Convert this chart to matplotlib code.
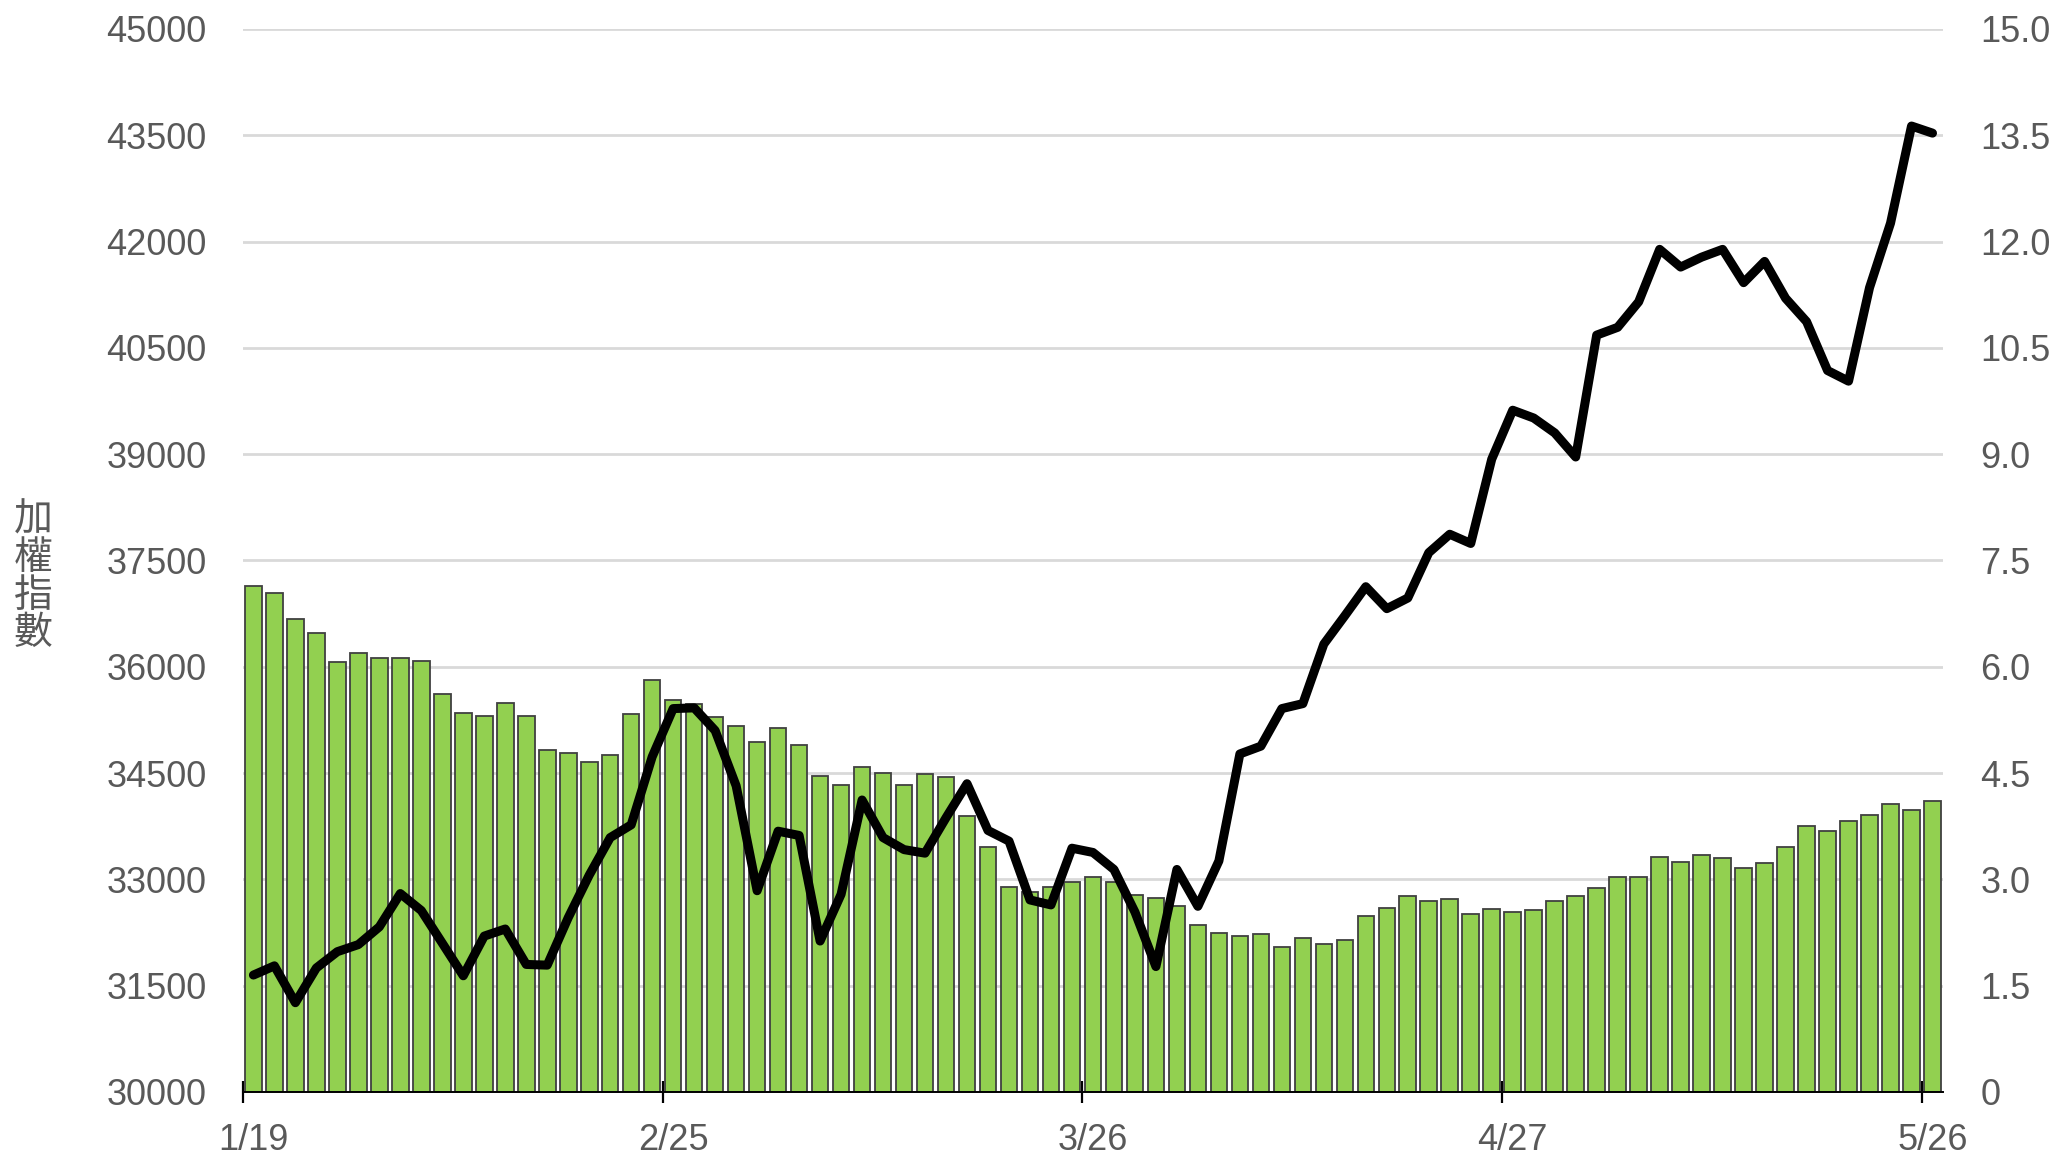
import numpy as np
import matplotlib
matplotlib.use("Agg")
import matplotlib.pyplot as plt
from matplotlib.ticker import FixedLocator, FuncFormatter

plt.rcParams['font.family'] = ['Liberation Sans', 'Noto Sans CJK TC', 'DejaVu Sans']

# bar series (right axis, 0-15)
bar_values = [7.14, 7.04, 6.67, 6.48, 6.07, 6.19, 6.13, 6.13, 6.08, 5.62,
              5.35, 5.31, 5.49, 5.31, 4.82, 4.79, 4.66, 4.76, 5.33, 5.82,
              5.53, 5.47, 5.29, 5.17, 4.94, 5.13, 4.89, 4.46, 4.33, 4.58,
              4.50, 4.33, 4.49, 4.45, 3.90, 3.46, 2.89, 2.82, 2.89, 2.96,
              3.03, 2.97, 2.78, 2.74, 2.62, 2.36, 2.24, 2.20, 2.23, 2.04,
              2.17, 2.09, 2.15, 2.48, 2.60, 2.76, 2.69, 2.73, 2.51, 2.58,
              2.54, 2.57, 2.69, 2.77, 2.88, 3.04, 3.03, 3.31, 3.25, 3.35,
              3.30, 3.16, 3.23, 3.46, 3.75, 3.68, 3.83, 3.91, 4.07, 3.98,
              4.10]

# weighted index line (left axis)
index_values = [31650, 31780, 31260, 31750, 31980, 32080, 32330, 32800, 32560, 32100,
                31640, 32200, 32300, 31800, 31790, 32460, 33060, 33590, 33770, 34730,
                35410, 35420, 35100, 34320, 32840, 33680, 33620, 32130, 32790, 34120,
                33590, 33420, 33370, 33870, 34350, 33690, 33540, 32710, 32640, 33440,
                33380, 33140, 32540, 31770, 33140, 32620, 33260, 34770, 34880, 35410,
                35480, 36320, 36720, 37130, 36820, 36970, 37610, 37870, 37740, 38930,
                39620, 39510, 39300, 38960, 40680, 40790, 41150, 41890, 41640, 41780,
                41890, 41420, 41720, 41200, 40870, 40180, 40030, 41350, 42260, 43630,
                43530]

tick_idx = [0, 20, 40, 60, 80]
tick_labels = ['1/19', '2/25', '3/26', '4/27', '5/26']

left_ticks = [30000, 31500, 33000, 34500, 36000, 37500, 39000, 40500, 42000, 43500, 45000]
right_ticks = [0, 1.5, 3.0, 4.5, 6.0, 7.5, 9.0, 10.5, 12.0, 13.5, 15.0]

text_color = '#595959'
fs = 26

fig = plt.figure(figsize=(20.55, 11.58), dpi=100)
ax = fig.add_axes([0.1182, 0.057, 0.8273, 0.918])
ax2 = ax.twinx()

x = np.arange(len(bar_values))

# bars on the right-hand scale
ax.bar(x, bar_values, width=0.79, color='#92D050', edgecolor='#404040', linewidth=1.3, zorder=2)
ax.set_ylim(0, 15)
ax.set_xlim(-0.5, len(bar_values) - 0.5)
ax.yaxis.tick_right()
ax.yaxis.set_major_locator(FixedLocator(right_ticks))
ax.yaxis.set_major_formatter(FuncFormatter(lambda v, p: '0' if v == 0 else f'{v:.1f}'))
ax.tick_params(axis='y', length=0, pad=27, labelsize=fs, labelcolor=text_color)
ax.grid(axis='y', color='#D9D9D9', linewidth=2)
ax.set_axisbelow(True)

ax.set_xticks(tick_idx)
ax.set_xticklabels(tick_labels)
ax.tick_params(axis='x', which='major', length=0, pad=22, labelsize=fs, labelcolor=text_color)
ax.set_xticks([i - 0.5 for i in tick_idx], minor=True)
ax.tick_params(axis='x', which='minor', direction='inout', length=16, width=1.6, color='black')

for s in ['top', 'left', 'right']:
    ax.spines[s].set_visible(False)
ax.spines['bottom'].set_color('black')
ax.spines['bottom'].set_linewidth(1.4)
ax.spines['bottom'].set_zorder(3)

# line on the left-hand scale
ax2.plot(x, index_values, color='black', linewidth=6.5, solid_joinstyle='round',
         solid_capstyle='round', zorder=3)
ax2.set_ylim(30000, 45000)
ax2.yaxis.tick_left()
ax2.yaxis.set_major_locator(FixedLocator(left_ticks))
ax2.tick_params(axis='y', length=0, pad=26, labelsize=fs, labelcolor=text_color)
for s in ['top', 'left', 'right', 'bottom']:
    ax2.spines[s].set_visible(False)

fig.text(0.016, 0.502, '\n'.join('加權指數'), ha='center', va='center', fontsize=28,
         color=text_color, linespacing=0.93, family=['Noto Sans CJK TC', 'DejaVu Sans'])

fig.savefig('out.png', dpi=100)
